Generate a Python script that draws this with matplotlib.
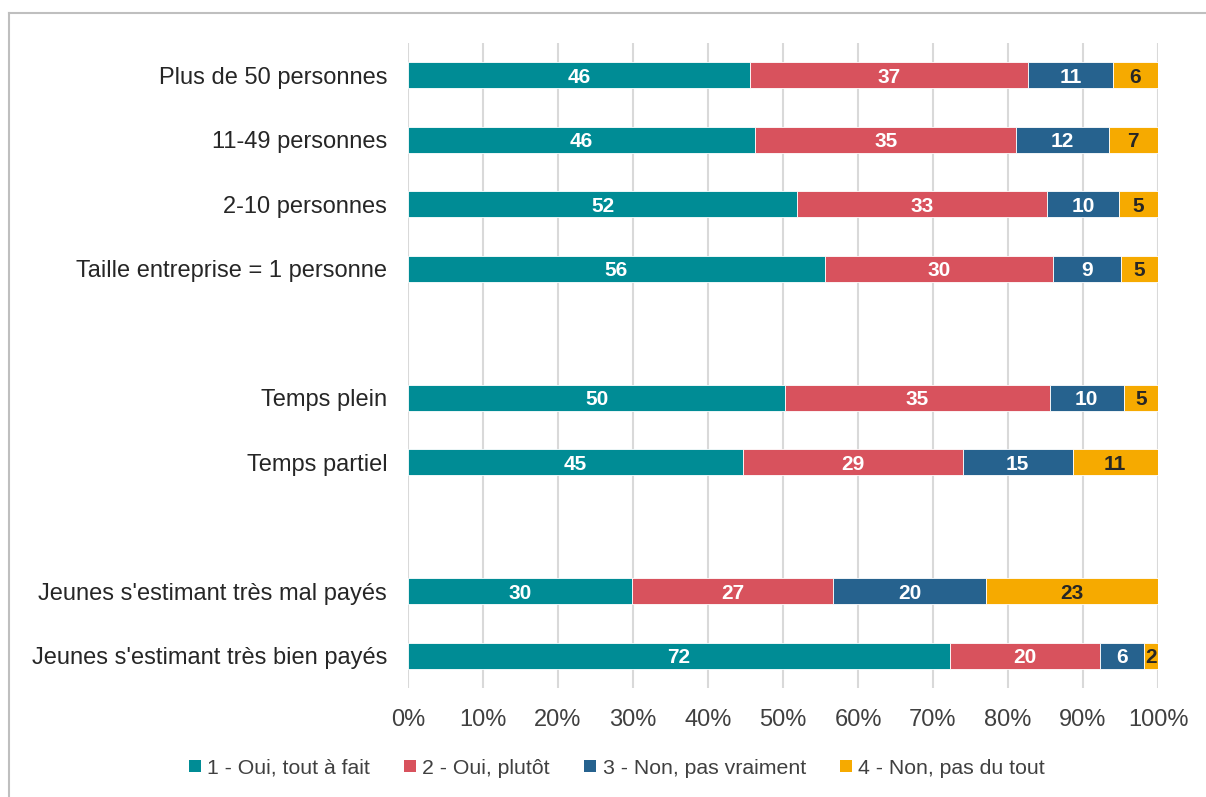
import matplotlib
matplotlib.use('Agg')
import matplotlib.pyplot as plt
import numpy as np
from matplotlib.lines import Line2D
from matplotlib.patches import Patch

plt.rcParams['font.family'] = ['Liberation Sans', 'DejaVu Sans']

# ---- data ----
categories = ["Plus de 50 personnes", "11-49 personnes", "2-10 personnes",
              "Taille entreprise = 1 personne",
              "Temps plein", "Temps partiel",
              "Jeunes s'estimant très mal payés", "Jeunes s'estimant très bien payés"]
group_sizes = [4, 2, 2]
series_names = ["1 - Oui, tout à fait", "2 - Oui, plutôt", "3 - Non, pas vraiment", "4 - Non, pas du tout"]
oui_tout = [45.6, 46.3, 51.9, 55.6, 50.3, 44.6, 29.9, 72.2]
oui_plutot = [37.1, 34.8, 33.3, 30.4, 35.3, 29.4, 26.8, 20.0]
non_pas_vraiment = [11.3, 12.3, 9.6, 9.1, 9.8, 14.6, 20.4, 5.9]
non_pas_du_tout = [6.0, 6.6, 5.2, 4.9, 4.6, 11.4, 22.9, 1.9]
colors = ["#008C95", "#D8525D", "#26628E", "#F6AA00"]
label_colors = ["white", "white", "white", "#262626"]
xticks = list(range(0, 101, 10))

# ---- positions (blank slot between groups) ----
positions = []
slot = 0
for g in group_sizes:
    for _ in range(g):
        positions.append(slot)
        slot += 1
    slot += 1
positions = np.array(positions)

fig = plt.figure(figsize=(12.06, 7.97), dpi=100)
ax = fig.add_axes([408/1206, 1-688/797, 750/1206, 645/797])

series = [oui_tout, oui_plutot, non_pas_vraiment, non_pas_du_tout]
left = np.zeros(len(categories))
for vals, col, lcol, name in zip(series, colors, label_colors, series_names):
    vals = np.array(vals)
    ax.barh(positions, vals, left=left, height=0.4, color=col,
            edgecolor='white', linewidth=0.6, label=name, zorder=3)
    for y, l, v in zip(positions, left, vals):
        ax.text(l + v/2, y + 0.03, f"{int(np.floor(v + 0.5))}", ha='center', va='center',
                color=lcol, fontsize=15, fontweight='bold', zorder=4)
    left += vals

ax.set_xlim(0, 100)
ax.set_ylim(positions.max() + 0.5, -0.5)
ax.set_xticks(xticks)
ax.set_xticklabels([f"{v}%" for v in xticks])
ax.set_yticks(positions)
ax.set_yticklabels(categories)
ax.xaxis.grid(True, color='#D9D9D9', linewidth=1.5, zorder=0)
ax.set_axisbelow(True)
for s in ax.spines.values():
    s.set_visible(False)
ax.tick_params(axis='x', length=0, labelsize=17, colors='#404040', pad=15)
ax.tick_params(axis='y', length=0, labelsize=17, colors='#262626', pad=15)

handles = [Patch(facecolor=c, edgecolor='none') for c in colors]
fig.legend(handles, series_names, loc='center', bbox_to_anchor=(617/1206, 1-768/797),
           ncol=4, frameon=False, fontsize=15.3, handlelength=0.55, handleheight=0.55,
           handletextpad=0.3, columnspacing=1.62, labelcolor='#404040')

# chart-area border
fig.add_artist(Line2D([9/1206, 9/1206], [0, 1-13/797], transform=fig.transFigure,
                      color='#BFBFBF', linewidth=1.5))
fig.add_artist(Line2D([9/1206, 1], [1-13/797, 1-13/797], transform=fig.transFigure,
                      color='#BFBFBF', linewidth=1.5))

fig.savefig('out.png', dpi=100)
